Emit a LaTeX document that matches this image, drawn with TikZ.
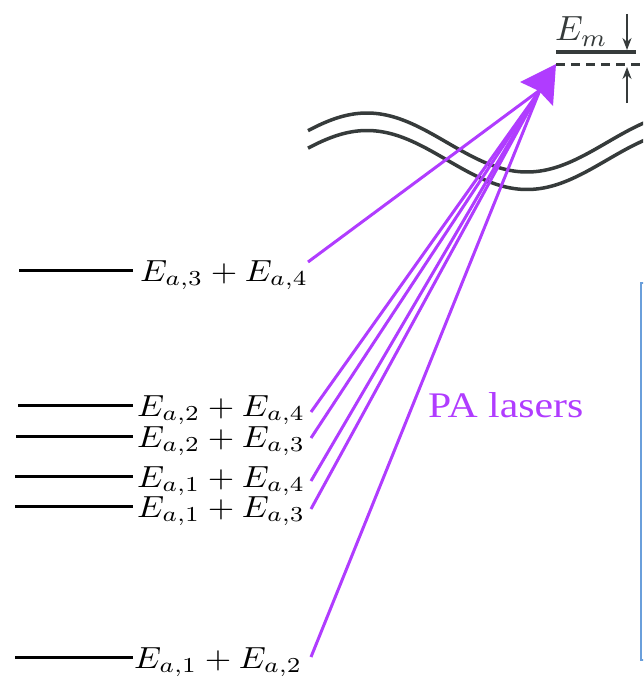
\documentclass[tikz,border=0pt]{standalone}
\usepackage{fontspec}
\usepackage{graphicx}
\usetikzlibrary{arrows.meta}
\newfontfamily\timesf{Liberation Serif}
\definecolor{pal}{HTML}{B03CFF}
\definecolor{wavec}{HTML}{363B3B}
\definecolor{boxc}{HTML}{6A9FDB}
\newcommand{\bigmath}[1]{\scalebox{3.4}[3.05]{\fontsize{10}{12}\selectfont$#1$}}
\tikzset{
  level/.style={line width=3pt, black},
  lab/.style={inner sep=0pt},
  laser/.style={line width=3pt, pal},
  wave/.style={line width=3.5pt, wavec},
  vmark/.style={line width=2pt, wavec, -{Stealth[length=12pt,width=9pt]}}
}
\begin{document}
\begin{tikzpicture}[x=1pt,y=-1pt]
\useasboundingbox (0,0) rectangle (643,677);
\clip (0,0) rectangle (643,677);
% right box (cut off)
\draw[boxc, line width=2pt] (641,283) rectangle (720,660);
% waves
\draw[wave] plot[domain=308:650, samples=120] (\x, {142.5+29.5*cos(1.125*(\x-527))});
\draw[wave] plot[domain=308:650, samples=120] (\x, {160+29.5*cos(1.125*(\x-527))});
% levels
\foreach \n/\xs/\yl/\lx/\t in {
  34/19/270/140/{E_{a,3}+E_{a,4}},
  24/18/405/137/{E_{a,2}+E_{a,4}},
  23/16/436/137/{E_{a,2}+E_{a,3}},
  14/15/476/137/{E_{a,1}+E_{a,4}},
  13/15/506/137/{E_{a,1}+E_{a,3}},
  12/15/657/134/{E_{a,1}+E_{a,2}}}{
  \coordinate (s\n) at (\xs,\yl);
  \coordinate (e\n) at (133,\yl);
  \draw[level] (s\n) -- (e\n);
  \node[lab, anchor=base west] (L\n) at (\lx,\yl+11) {\bigmath{\t}};
}
% laser start points
\coordinate (p34) at (308,262);
\coordinate (p24) at (311,412);
\coordinate (p23) at (311,438);
\coordinate (p14) at (311,481);
\coordinate (p13) at (311,509);
\coordinate (p12) at (311,657);
\coordinate (hb) at (540,90);
\foreach \n in {34,24,23,14,13,12}{\draw[laser] (p\n) -- (hb);}
\fill[pal] (556,64) -- (520,82) -- (539,91) -- (553,106) -- cycle;
\node[inner sep=0pt, anchor=base west, text=pal, font=\timesf\fontsize{36}{42}\selectfont] (pa) at (428,417) {\scalebox{1.16}[1]{PA lasers}};
% E_m
\node[inner sep=0pt, anchor=base west, text=wavec] (em) at (555,41) {\scalebox{3.5}[3.5]{\fontsize{10}{12}\selectfont$E_m$}};
\coordinate (sl) at (556,52);
\coordinate (sr) at (636,52);
\draw[wavec, line width=4.5pt] (sl) -- (sr);
\coordinate (dl) at (556,65);
\coordinate (dr) at (643,65);
\draw[wavec, line width=3pt, dash pattern=on 9pt off 6pt] (dl) -- (dr);
\coordinate (at1) at (627,14);
\coordinate (ab1) at (627,50);
\coordinate (at2) at (627,103);
\coordinate (ab2) at (627,67);
\draw[vmark] (at1) -- (ab1);
\draw[vmark] (at2) -- (ab2);
\end{tikzpicture}
\end{document}
